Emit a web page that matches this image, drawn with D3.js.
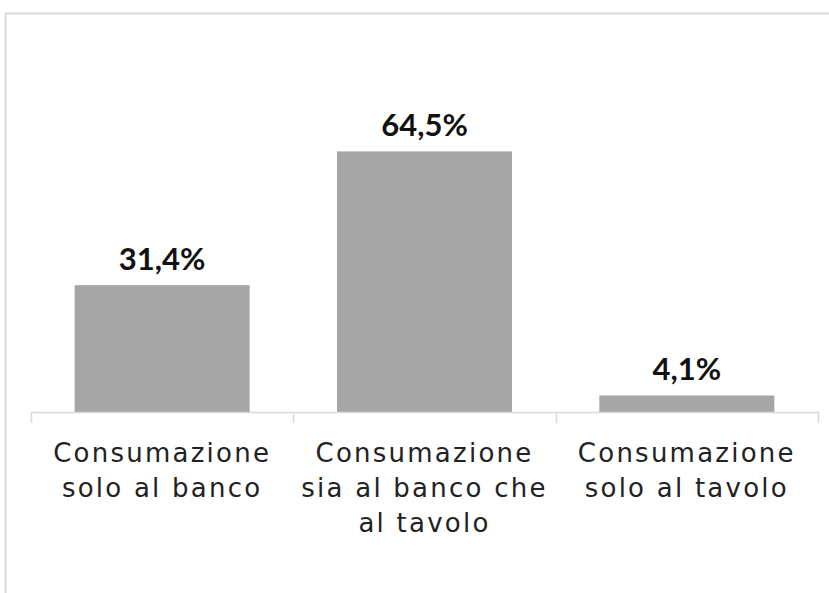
<!DOCTYPE html>
<html>
<head>
<meta charset="utf-8">
<script src="https://cdn.jsdelivr.net/npm/d3@7"></script>
<style>
  html, body { margin: 0; padding: 0; background: #fff; }
  svg { display: block; }
</style>
</head>
<body>
<svg id="chart" width="829" height="593"></svg>
<script>
const categories = ["banco", "entrambi", "tavolo"];
const categoryLabels = [
  ["Consumazione", "solo al banco"],
  ["Consumazione", "sia al banco che", "al tavolo"],
  ["Consumazione", "solo al tavolo"]
];
const values = [31.4, 64.5, 4.1];
const valueLabels = ["31,4%", "64,5%", "4,1%"];

const W = 829, H = 593;
const svg = d3.select("#chart");

// outer frame
svg.append("rect")
  .attr("x", 5.5).attr("y", 13.5)
  .attr("width", 900).attr("height", 700)
  .attr("fill", "none")
  .attr("stroke", "#d9d9d9")
  .attr("stroke-width", 2);

const axisY = 412;
const p = 0.333;
const x = d3.scaleBand()
  .domain(categories)
  .range([31, 818])
  .paddingInner(p)
  .paddingOuter(p / 2);

const y = d3.scaleLinear()
  .domain([0, 70])
  .range([axisY, axisY - 70 * 4.04]);

// bars
svg.append("g").selectAll("rect")
  .data(categories)
  .join("rect")
  .attr("x", d => x(d))
  .attr("width", x.bandwidth())
  .attr("y", (d, i) => y(values[i]))
  .attr("height", (d, i) => y(0) - y(values[i]))
  .attr("fill", "#a6a6a6");

// axis line and ticks at band boundaries
const step = x.step();
const bounds = categories.map(d => x(d) - step * p / 2);
bounds.push(x(categories[categories.length - 1]) + x.bandwidth() + step * p / 2);

const axisG = svg.append("g");
axisG.append("line")
  .attr("x1", bounds[0]).attr("x2", bounds[bounds.length - 1])
  .attr("y1", axisY + 0.5).attr("y2", axisY + 0.5)
  .attr("stroke", "#d9d9d9").attr("stroke-width", 1.5);
axisG.selectAll("line.tick")
  .data(bounds)
  .join("line")
  .attr("class", "tick")
  .attr("x1", d => Math.round(d) + 0.5).attr("x2", d => Math.round(d) + 0.5)
  .attr("y1", axisY).attr("y2", axisY + 11)
  .attr("stroke", "#d9d9d9").attr("stroke-width", 1.5);

// value labels
svg.append("g").selectAll("text")
  .data(categories)
  .join("text")
  .attr("x", d => x(d) + x.bandwidth() / 2)
  .attr("y", (d, i) => y(values[i]) - 15)
  .attr("text-anchor", "middle")
  .attr("font-family", "Lato, 'DejaVu Sans', sans-serif")
  .attr("font-weight", "bold")
  .attr("font-size", 31)
  .attr("fill", "#111")
  .text((d, i) => valueLabels[i]);

// category labels
const catFont = 26;
const catText = svg.append("g").selectAll("text")
  .data(categories)
  .join("text")
  .attr("text-anchor", "middle")
  .attr("font-family", "'DejaVu Sans', sans-serif")
  .attr("font-size", catFont)
  .attr("fill", "#222");
catText.selectAll("tspan")
  .data((d, i) => categoryLabels[i].map(t => ({ t, c: d })))
  .join("tspan")
  .attr("x", d => x(d.c) + x.bandwidth() / 2)
  .attr("y", (d, j) => 462 + j * 35)
  .text(d => d.t);

// widen letter spacing so "Consumazione" spans ~218px like the reference
const probe = svg.append("text")
  .attr("font-family", "'DejaVu Sans', sans-serif")
  .attr("font-size", catFont)
  .text(categoryLabels[0][0]);
const w = probe.node().getComputedTextLength();
probe.remove();
const ls = Math.max(0, (218 - w) / categoryLabels[0][0].length);
catText.attr("letter-spacing", ls);
</script>
</body>
</html>
